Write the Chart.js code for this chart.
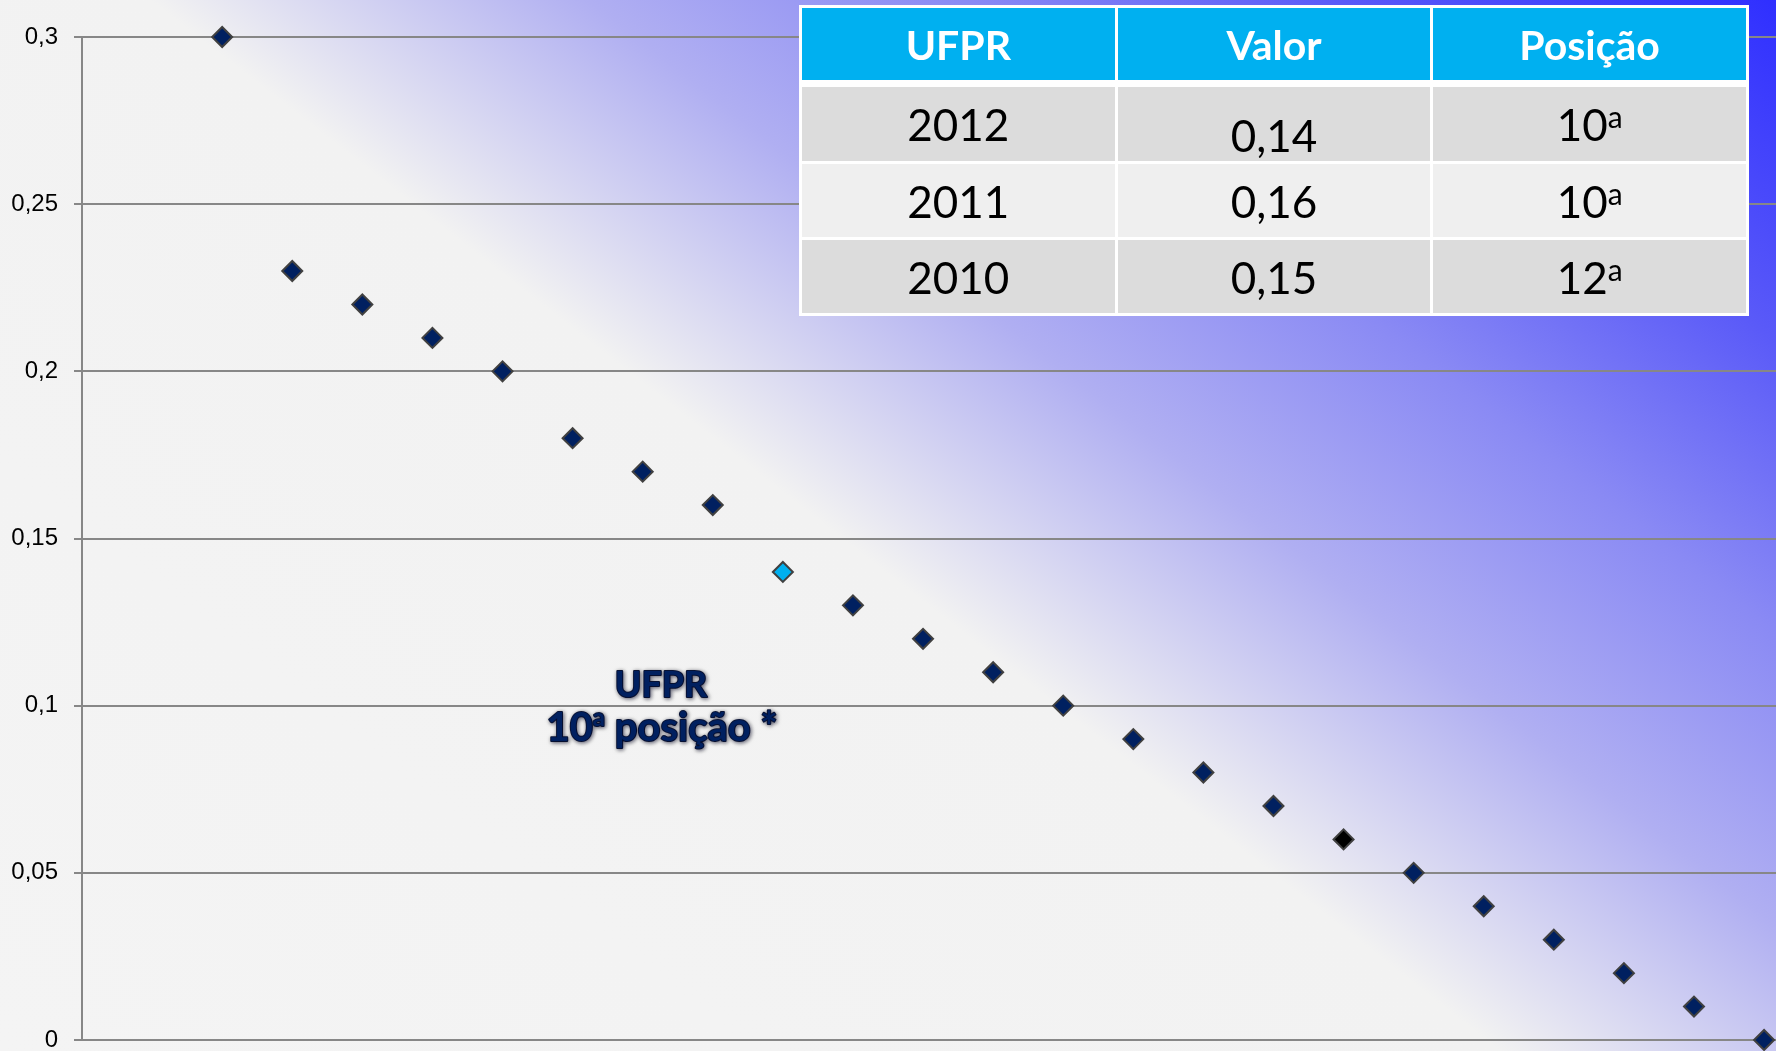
<!DOCTYPE html>
<html lang="pt-BR">
<head>
<meta charset="utf-8">
<title>UFPR - posição</title>
<script src="https://cdn.jsdelivr.net/npm/chart.js@4.4.1/dist/chart.umd.min.js"></script>
<style>
    html, body { margin: 0; padding: 0; }
    body {
        width: 1776px;
        height: 1051px;
        overflow: hidden;
        position: relative;
        background: linear-gradient(37.9deg, #f4f4f4 0%, #f2f2f2 48%, #b0aff2 62%, #8a8af4 74%, #5a5af8 86%, #2f2fff 100%);
    }
    #grafico { position: absolute; left: 0; top: 0; }
    #tabela {
        position: absolute;
        left: 799px;
        top: 5px;
        width: 950px;
        border-collapse: collapse;
        font-family: Lato, "Open Sans", sans-serif;
        text-align: center;
    }
    #tabela th, #tabela td {
        border: 3px solid #fff;
        padding: 0;
        width: 33.3%;
    }
    #tabela th {
        background: #00b0f0;
        color: #fff;
        font-weight: bold;
        font-size: 41px;
        height: 72px;
        border-bottom-width: 7px;
    }
    #tabela td {
        color: #000;
        font-size: 44px;
        height: 73px;
    }
    #tabela tr.escura td { background: #dcdcdc; }
    #tabela tr.clara td { background: #efefef; }
    #tabela td.baixo { padding-top: 22px; height: 51px; }
    .ord { font-size: 30px; vertical-align: 13px; }
</style>
</head>
<body>
<canvas id="grafico" width="1776" height="1051"></canvas>
<table id="tabela">
    <thead>
        <tr><th>UFPR</th><th>Valor</th><th>Posição</th></tr>
    </thead>
    <tbody id="tabela-corpo"></tbody>
</table>
<script>
// posição de cada universidade no ranking e o índice correspondente
const posicoes = [1, 2, 3, 4, 5, 6, 7, 8, 9, 10, 11, 12, 13, 14, 15, 16, 17, 18, 19, 20, 21, 22, 23];
const indices = [0.30, 0.23, 0.22, 0.21, 0.20, 0.18, 0.17, 0.16, 0.14, 0.13, 0.12, 0.11,
                 0.10, 0.09, 0.08, 0.07, 0.06, 0.05, 0.04, 0.03, 0.02, 0.01, 0];
const marcasEixoY = [0, 0.05, 0.1, 0.15, 0.2, 0.25, 0.3];
const rotulosEixoY = ['0', '0,05', '0,1', '0,15', '0,2', '0,25', '0,3'];

// pontos com cor diferente (posição no ranking)
const posicaoUFPR = 9;
const posicaoPreta = 17;

// tabela do canto
const tabelaAnos = ['2012', '2011', '2010'];
const tabelaValores = ['0,14', '0,16', '0,15'];
const tabelaPosicoes = ['10', '10', '12'];

function preencherTabela() {
    const corpo = document.getElementById('tabela-corpo');
    corpo.innerHTML = '';
    tabelaAnos.forEach((ano, i) => {
        const linha = document.createElement('tr');
        linha.className = i % 2 === 0 ? 'escura' : 'clara';
        linha.innerHTML = `
            <td>${ano}</td>
            <td class="${i === 0 ? 'baixo' : ''}">${tabelaValores[i]}</td>
            <td>${tabelaPosicoes[i]}<span class="ord">a</span></td>
        `;
        corpo.appendChild(linha);
    });
}

// texto "UFPR / 10ª posição *" no meio do gráfico
const rotuloUFPR = {
    id: 'rotuloUFPR',
    afterDatasetsDraw(chart) {
        const ctx = chart.ctx;
        ctx.save();
        ctx.textBaseline = 'alphabetic';
        ctx.lineJoin = 'round';
        ctx.shadowColor = 'rgba(0, 0, 30, 0.55)';
        ctx.shadowBlur = 4;
        ctx.shadowOffsetX = 1;
        ctx.shadowOffsetY = 1;

        const fonte = 'bold 40px Lato';
        const fonteOrd = 'bold 24px Lato';

        function escrever(texto, x, y) {
            ctx.strokeStyle = '#0a1638';
            ctx.lineWidth = 2;
            ctx.strokeText(texto, x, y);
            ctx.fillStyle = '#002060';
            ctx.fillText(texto, x, y);
        }

        ctx.textAlign = 'center';
        ctx.font = 'bold 36px Lato';
        escrever('UFPR', 661, 697);

        ctx.textAlign = 'left';
        const parte1 = '10', parte2 = 'a', parte3 = ' posição *';
        ctx.font = fonte;
        const l1 = ctx.measureText(parte1).width;
        const l3 = ctx.measureText(parte3).width;
        ctx.font = fonteOrd;
        const l2 = ctx.measureText(parte2).width;
        let x = 662 - (l1 + l2 + l3) / 2;
        ctx.font = fonte;
        escrever(parte1, x, 741);
        x += l1;
        ctx.font = fonteOrd;
        escrever(parte2, x, 726);
        x += l2;
        ctx.font = fonte;
        escrever(parte3, x, 741);
        ctx.restore();
    }
};

function criarGrafico() {
    const ctx = document.getElementById('grafico').getContext('2d');

    const cores = posicoes.map(p => {
        if (p === posicaoUFPR) return '#00b0f0';
        if (p === posicaoPreta) return '#000000';
        return '#002060';
    });

    new Chart(ctx, {
        type: 'scatter',
        data: {
            datasets: [{
                label: 'Índice',
                data: posicoes.map((p, i) => ({ x: p, y: indices[i] })),
                pointStyle: 'rectRot',
                pointRadius: 10,
                pointHoverRadius: 10,
                pointBackgroundColor: cores,
                pointBorderColor: '#404040',
                pointBorderWidth: 2,
                showLine: false,
                clip: false
            }]
        },
        plugins: [rotuloUFPR],
        options: {
            responsive: false,
            devicePixelRatio: 1,
            animation: false,
            layout: {
                autoPadding: false,
                padding: { top: 37, bottom: 11, left: 0, right: 0 }
            },
            plugins: {
                legend: { display: false },
                tooltip: { enabled: false }
            },
            scales: {
                x: {
                    type: 'linear',
                    display: false,
                    min: -1,
                    max: 23.17
                },
                y: {
                    min: 0,
                    max: 0.3,
                    afterFit: s => {
                        s.width = 82;
                        // as margens vêm do layout.padding
                        s.paddingTop = 0;
                        s.paddingBottom = 0;
                    },
                    afterBuildTicks: s => { s.ticks = marcasEixoY.map(v => ({ value: v })); },
                    ticks: {
                        padding: 16,
                        color: '#000',
                        font: { family: '"Liberation Sans", Arial, sans-serif', size: 24, lineHeight: 1 },
                        callback: value => {
                            const i = marcasEixoY.findIndex(v => Math.abs(v - value) < 1e-9);
                            return i >= 0 ? rotulosEixoY[i] : '';
                        }
                    },
                    grid: {
                        color: '#878787',
                        lineWidth: 2,
                        tickLength: 8,
                        drawTicks: true
                    },
                    border: { display: true, color: '#878787', width: 2 }
                }
            }
        }
    });
}

window.onload = () => {
    preencherTabela();
    criarGrafico();
};
</script>
</body>
</html>
